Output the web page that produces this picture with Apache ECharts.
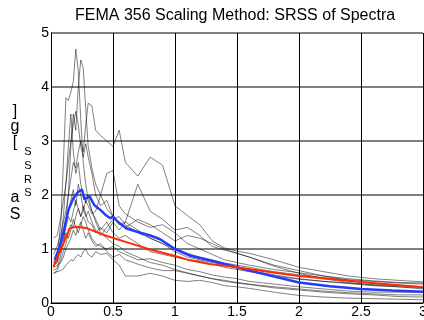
<!DOCTYPE html>
<html>
<head>
<meta charset="utf-8">
<script src="https://cdn.jsdelivr.net/npm/echarts@6/dist/echarts.min.js"></script>
<style>
  html, body { margin: 0; padding: 0; background: #fff; }
  #chart { width: 424px; height: 320px; }
</style>
</head>
<body>
<div id="chart"></div>
<script>
// periods [s] shared by the scaled ground motion spectra
const periods = [0.02, 0.05, 0.08, 0.1, 0.12, 0.14, 0.16, 0.18, 0.2, 0.22,
  0.24, 0.26, 0.28, 0.3, 0.33, 0.36, 0.4, 0.45, 0.5, 0.55,
  0.6, 0.7, 0.8, 0.9, 1.0, 1.1, 1.2, 1.3, 1.4, 1.5,
  1.6, 1.8, 2.0, 2.2, 2.4, 2.6, 2.8, 3.0];

// SRSS spectra of each record (Sa, g)
const rec1 = [0.75, 0.85, 1.5, 2.6, 3.8, 3.75, 3.9, 4.1, 4.7, 4.3,
  3.4, 2.6, 2.2, 1.9, 1.7, 1.55, 1.35, 1.5, 1.3, 1.2,
  1.25, 1.1, 0.95, 0.9, 0.85, 0.8, 0.78, 0.72, 0.66, 0.62,
  0.58, 0.5, 0.44, 0.4, 0.37, 0.34, 0.32, 0.3];
const rec2 = [0.6, 0.65, 0.9, 1.1, 1.5, 2.0, 2.9, 3.5, 3.2, 4.0,
  4.5, 4.35, 3.6, 2.9, 2.5, 2.2, 2.0, 1.75, 1.6, 1.45,
  1.5, 1.35, 1.2, 1.1, 1.0, 0.92, 0.85, 0.8, 0.74, 0.7,
  0.66, 0.58, 0.52, 0.47, 0.43, 0.4, 0.37, 0.35];
const rec3 = [0.9, 1.05, 1.3, 1.5, 1.7, 2.0, 2.3, 2.6, 2.5, 2.8,
  3.0, 2.8, 3.3, 3.7, 3.65, 3.2, 3.1, 3.0, 2.9, 3.2,
  2.6, 2.35, 2.7, 2.55, 1.8, 1.62, 1.45, 1.15, 1.02, 0.96,
  0.92, 0.8, 0.66, 0.58, 0.5, 0.45, 0.42, 0.39];
const rec4 = [0.55, 0.6, 0.8, 0.95, 1.1, 1.3, 1.45, 1.4, 1.6, 1.75,
  1.6, 1.7, 1.9, 1.8, 1.65, 1.7, 2.0, 2.4, 2.45, 1.8,
  1.65, 1.5, 1.4, 1.45, 1.3, 1.1, 1.0, 0.9, 0.8, 0.75,
  0.7, 0.62, 0.56, 0.5, 0.45, 0.41, 0.38, 0.37];
const rec5 = [1.2, 1.25, 1.6, 1.9, 2.2, 2.6, 3.0, 3.3, 3.55, 3.3,
  2.9, 2.7, 2.95, 2.7, 2.4, 2.0, 1.8, 1.9, 1.6, 1.5,
  1.4, 1.55, 1.45, 1.3, 1.15, 1.25, 1.2, 1.1, 1.0, 0.92,
  0.85, 0.7, 0.6, 0.5, 0.42, 0.36, 0.33, 0.3];
const rec6 = [0.7, 0.75, 1.0, 1.2, 1.4, 1.6, 1.5, 1.7, 1.9, 1.75,
  1.6, 1.8, 1.65, 1.5, 1.45, 1.3, 1.4, 1.3, 1.5, 1.35,
  1.5, 2.2, 1.7, 1.55, 1.35, 1.4, 1.25, 1.05, 0.98, 0.92,
  0.85, 0.68, 0.55, 0.45, 0.38, 0.33, 0.3, 0.26];
const rec7 = [0.55, 0.58, 0.6, 0.63, 0.7, 0.75, 0.8, 0.78, 0.85, 0.9,
  0.85, 0.95, 1.0, 0.9, 0.85, 0.95, 0.9, 0.92, 0.8, 0.7,
  0.5, 0.5, 0.55, 0.5, 0.42, 0.4, 0.42, 0.38, 0.32, 0.3,
  0.27, 0.2, 0.14, 0.11, 0.09, 0.08, 0.07, 0.06];
const rec8 = [0.75, 0.8, 1.1, 1.3, 1.55, 1.7, 1.9, 2.1, 1.8, 2.2,
  2.0, 1.75, 1.6, 1.7, 1.5, 1.35, 1.25, 1.4, 1.55, 1.6,
  1.45, 1.3, 1.2, 1.1, 0.95, 0.85, 0.8, 0.75, 0.7, 0.65,
  0.6, 0.52, 0.45, 0.4, 0.36, 0.32, 0.3, 0.28];
const rec9 = [0.65, 0.7, 0.75, 0.85, 1.0, 1.1, 1.2, 1.35, 1.25, 1.4,
  1.5, 1.35, 1.2, 1.3, 1.15, 1.05, 1.1, 0.95, 0.85, 0.9,
  0.8, 0.72, 0.65, 0.6, 0.6, 0.55, 0.5, 0.45, 0.42, 0.38,
  0.35, 0.3, 0.26, 0.22, 0.19, 0.17, 0.15, 0.15];
const rec10 = [0.8, 0.85, 0.95, 1.1, 1.3, 1.2, 1.35, 1.55, 1.4, 1.3,
  1.45, 1.6, 1.5, 1.35, 1.2, 1.1, 1.05, 1.0, 1.05, 0.95,
  0.9, 0.8, 0.82, 0.75, 0.7, 0.62, 0.58, 0.52, 0.48, 0.45,
  0.4, 0.35, 0.3, 0.26, 0.22, 0.2, 0.2, 0.2];
const rec11 = [0.7, 0.75, 1.2, 1.6, 2.2, 2.9, 3.5, 2.8, 2.4, 2.6,
  2.2, 2.0, 1.85, 2.0, 1.7, 1.5, 1.3, 1.2, 1.1, 1.05,
  0.95, 0.85, 0.75, 0.7, 0.62, 0.56, 0.5, 0.45, 0.4, 0.37,
  0.34, 0.28, 0.24, 0.2, 0.17, 0.15, 0.12, 0.11];
const records = [rec1, rec2, rec3, rec4, rec5, rec6, rec7, rec8, rec9, rec10, rec11];

// average of the scaled spectra (blue)
const meanT = [0.03, 0.07, 0.11, 0.14, 0.18, 0.22, 0.25, 0.27, 0.31, 0.35,
  0.4, 0.44, 0.48, 0.5, 0.54, 0.61, 0.72, 0.8, 0.88, 1.0,
  1.12, 1.26, 1.44, 1.6, 1.75, 2.0, 2.25, 2.5, 2.75, 3.0];
const meanSa = [0.8, 1.04, 1.41, 1.72, 1.94, 2.06, 2.1, 1.92, 1.98, 1.81,
  1.72, 1.63, 1.57, 1.6, 1.5, 1.38, 1.3, 1.25, 1.18, 1.0,
  0.88, 0.8, 0.7, 0.6, 0.52, 0.38, 0.31, 0.26, 0.23, 0.21];

// design (target) spectrum (red)
const targetT = [0.02, 0.06, 0.1, 0.15, 0.2, 0.28, 0.45, 0.66, 0.8, 1.0,
  1.12, 1.28, 1.44, 1.75, 2.0, 2.5, 3.0];
const targetSa = [0.67, 0.9, 1.1, 1.38, 1.41, 1.39, 1.24, 1.09, 0.99, 0.87,
  0.79, 0.72, 0.68, 0.58, 0.5, 0.39, 0.29];

// y axis name as Matlab drew it: upright glyphs stacked
const yNameChars = [
  { t: ']', x: 15, y: 112, sub: false },
  { t: 'g', x: 15, y: 127, sub: false },
  { t: '[', x: 15, y: 143, sub: false },
  { t: 'S', x: 28, y: 152, sub: true },
  { t: 'S', x: 28, y: 166, sub: true },
  { t: 'R', x: 28, y: 180, sub: true },
  { t: 'S', x: 28, y: 193, sub: true },
  { t: 'a', x: 15, y: 198, sub: false },
  { t: 'S', x: 15, y: 215, sub: false }
];

const FONT = '"Liberation Sans", Arial, Helvetica, sans-serif';

const chart = echarts.init(document.getElementById('chart'));

const series = records.map((rec) => ({
  type: 'line',
  data: periods.map((t, i) => [t, rec[i]]),
  showSymbol: false,
  silent: true,
  lineStyle: { color: '#000', width: 0.5 },
  z: 2
}));

series.push({
  type: 'line',
  data: meanT.map((t, i) => [t, meanSa[i]]),
  showSymbol: false,
  lineStyle: { color: '#1f3cff', width: 2.5 },
  z: 3
});
series.push({
  type: 'line',
  data: targetT.map((t, i) => [t, targetSa[i]]),
  showSymbol: false,
  lineStyle: { color: '#ff2a00', width: 2 },
  z: 4
});

chart.setOption({
  animation: false,
  title: {
    text: 'FEMA 356 Scaling Method: SRSS of Spectra',
    left: 70,
    top: 3,
    textStyle: { fontFamily: FONT, fontSize: 16, fontWeight: 'normal', color: '#000' }
  },
  grid: { left: 51, right: 1, top: 33, bottom: 17, containLabel: false, outerBoundsMode: 'none' },
  xAxis: {
    type: 'value',
    min: 0,
    max: 3,
    interval: 0.5,
    axisLine: { show: true, lineStyle: { color: '#000', width: 1 } },
    axisTick: { show: false },
    axisLabel: {
      color: '#000', fontFamily: FONT, fontSize: 14, margin: 2,
      showMinLabel: true, showMaxLabel: true, hideOverlap: false
    },
    splitLine: { show: true, lineStyle: { color: '#000', width: 1 } }
  },
  yAxis: {
    type: 'value',
    min: 0,
    max: 5,
    interval: 1,
    axisLine: { show: true, lineStyle: { color: '#000', width: 1 } },
    axisTick: { show: false },
    axisLabel: {
      color: '#000', fontFamily: FONT, fontSize: 14, margin: 2,
      showMinLabel: true, showMaxLabel: true
    },
    splitLine: { show: true, lineStyle: { color: '#555', width: 1.5 } }
  },
  graphic: yNameChars.map((c) => ({
    type: 'text',
    x: c.x,
    y: c.y,
    style: {
      text: c.t,
      font: (c.sub ? '11px ' : '16px ') + FONT,
      fill: '#000',
      align: 'center',
      verticalAlign: 'middle',
      textAlign: 'center',
      textVerticalAlign: 'middle'
    }
  })),
  series: series
});
</script>
</body>
</html>
